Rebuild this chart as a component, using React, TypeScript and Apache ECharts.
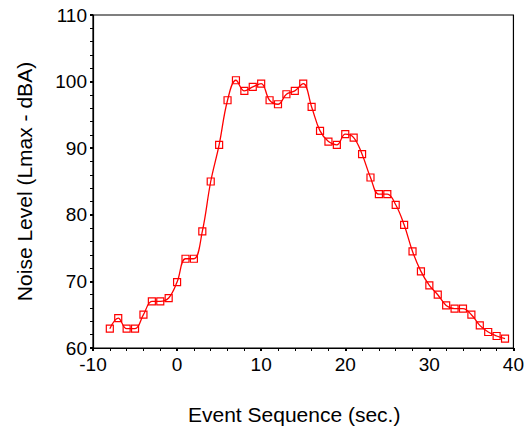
import React, { useEffect, useRef } from "react";
import * as echarts from "echarts";

const seconds = [
  -8, -7, -6, -5, -4, -3, -2, -1, 0, 1, 2, 3, 4, 5, 6, 7, 8, 9, 10, 11, 12, 13, 14, 15,
  16, 17, 18, 19, 20, 21, 22, 23, 24, 25, 26, 27, 28, 29, 30, 31, 32, 33, 34, 35, 36, 37, 38, 39,
];
const noiseLevel = [
  62.9, 64.5, 62.9, 62.9, 65.0, 67.0, 67.0, 67.5, 69.9, 73.4, 73.4, 77.5, 85.0, 90.5, 97.2, 100.2,
  98.6, 99.2, 99.7, 97.2, 96.6, 98.1, 98.6, 99.7, 96.2, 92.6, 91.0, 90.5, 92.1, 91.6, 89.1, 85.6,
  83.1, 83.1, 81.5, 78.5, 74.5, 71.5, 69.4, 68.0, 66.4, 65.9, 65.9, 65.0, 63.4, 62.4, 61.8, 61.4,
];
const xTitle = "Event Sequence (sec.)";
const yTitle = "Noise Level (Lmax - dBA)";

export default function App() {
  const ref = useRef<HTMLDivElement>(null);
  useEffect(() => {
    if (!ref.current) return;
    const chart = echarts.init(ref.current, null, { renderer: "svg" });
    const font = "'Liberation Sans', Arial, sans-serif";
    const axisCommon = {
      axisLine: { show: true, onZero: false, lineStyle: { color: "#000", width: 1.2 } },
      axisTick: { show: true, inside: false, length: 3, lineStyle: { color: "#000", width: 2 } },
      minorTick: { show: true, splitNumber: 5, length: 3, lineStyle: { color: "#000", width: 1 } },
      splitLine: { show: false },
      minorSplitLine: { show: false },
      axisLabel: { color: "#000", fontSize: 19, fontFamily: font },
      nameTextStyle: { color: "#000", fontSize: 21, fontFamily: font },
    };
    chart.setOption({
      animation: false,
      backgroundColor: "#fff",
      grid: {
        left: 93,
        right: 12,
        top: 15,
        bottom: 87,
        show: true,
        borderColor: "#000",
        borderWidth: 1.2,
        backgroundColor: "transparent",
      },
      xAxis: {
        type: "value",
        min: -10,
        max: 40,
        interval: 10,
        name: xTitle,
        nameLocation: "middle",
        nameGap: 56,
        ...axisCommon,
        nameTextStyle: { ...axisCommon.nameTextStyle, padding: [0, 18, 0, 0] },
        axisLabel: { ...axisCommon.axisLabel, margin: 7 },
      },
      yAxis: {
        type: "value",
        min: 60,
        max: 110,
        interval: 10,
        name: yTitle,
        nameLocation: "middle",
        nameGap: 58,
        ...axisCommon,
        axisLabel: { ...axisCommon.axisLabel, margin: 6 },
      },
      series: [
        {
          type: "line",
          data: seconds.map((s, i) => [s, noiseLevel[i]]),
          smooth: 0.4,
          symbol: "rect",
          symbolSize: 7,
          showAllSymbol: true,
          lineStyle: { color: "#ff0000", width: 1.3 },
          itemStyle: { color: "rgba(255,255,255,0)", borderColor: "#ff0000", borderWidth: 1.2 },
        },
      ],
    });
    return () => chart.dispose();
  }, []);
  return (
    <div
      ref={ref}
      style={{ position: "fixed", left: 0, top: 0, width: 527, height: 435, background: "#fff" }}
    />
  );
}
